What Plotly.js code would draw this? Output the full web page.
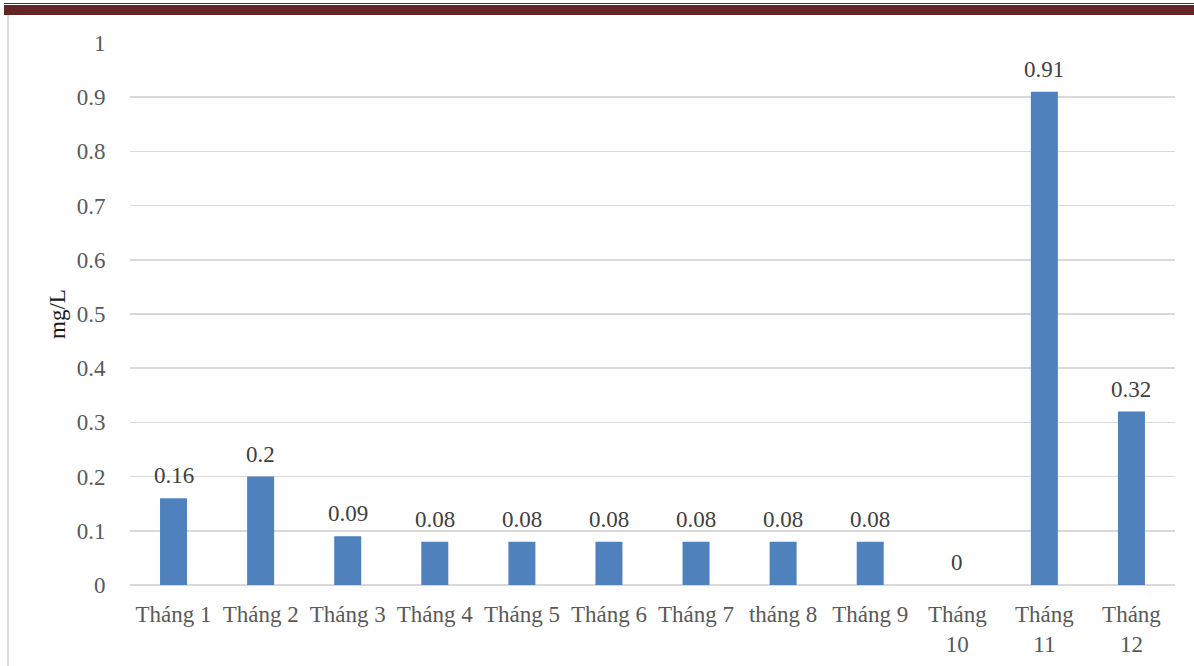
<!DOCTYPE html>
<html>
<head>
<meta charset="utf-8">
<script src="https://cdn.plot.ly/plotly-3.0.1.min.js"></script>
<style>
html,body{margin:0;padding:0;background:#fff;}
#wrap{position:relative;width:1194px;height:666px;overflow:hidden;}
#chart{position:absolute;left:0;top:0;width:1194px;height:666px;}
.deco{position:absolute;pointer-events:none;}
</style>
</head>
<body>
<div id="wrap">
<div id="chart"></div>
<div class="deco" style="left:4px;top:3px;width:1190px;height:1px;background:#632523;"></div>
<div class="deco" style="left:4px;top:5px;width:1190px;height:10px;background:#632523;"></div>
<div class="deco" style="left:7px;top:15px;width:2px;height:651px;background:#d9d9d9;"></div>
</div>
<script>
const categories = ["Tháng 1","Tháng 2","Tháng 3","Tháng 4","Tháng 5","Tháng 6","Tháng 7","tháng 8","Tháng 9","Tháng<br>10","Tháng<br>11","Tháng<br>12"];
const values = [0.16, 0.2, 0.09, 0.08, 0.08, 0.08, 0.08, 0.08, 0.08, 0, 0.91, 0.32];
const yTicks = [0, 0.1, 0.2, 0.3, 0.4, 0.5, 0.6, 0.7, 0.8, 0.9, 1];
const yTickLabels = ["0","0.1","0.2","0.3","0.4","0.5","0.6","0.7","0.8","0.9","1"];

const font = "Liberation Serif, Times New Roman, serif";

const labels = categories.map((c, i) => ({
  x: c, y: values[i], xref: "x", yref: "y",
  text: String(values[i]),
  showarrow: false, yanchor: "bottom", yshift: 8,
  font: {family: font, size: 23, color: "#404040"}
}));

Plotly.newPlot("chart", [{
  type: "bar",
  x: categories,
  y: values,
  marker: {color: "#4F81BD"},
  hoverinfo: "none"
}], {
  width: 1194,
  height: 666,
  margin: {l: 130, r: 19, t: 43, b: 81},
  paper_bgcolor: "rgba(0,0,0,0)",
  plot_bgcolor: "#fff",
  bargap: 0.69,
  showlegend: false,
  font: {family: font, size: 23, color: "#595959"},
  annotations: labels,
  xaxis: {
    type: "category",
    tickfont: {family: font, size: 23, color: "#595959"},
    showgrid: false,
    showline: false,
    ticks: "outside",
    ticklen: 8,
    tickcolor: "rgba(0,0,0,0)",
    zeroline: false,
    fixedrange: true
  },
  yaxis: {
    range: [0, 1],
    tickvals: yTicks,
    ticktext: yTickLabels,
    tickfont: {family: font, size: 23, color: "#595959"},
    showgrid: true,
    gridcolor: "#D9D9D9",
    gridwidth: 1.5,
    zeroline: true,
    zerolinecolor: "#D9D9D9",
    zerolinewidth: 1.5,
    showline: false,
    ticks: "outside",
    ticklen: 19,
    tickcolor: "rgba(0,0,0,0)",
    title: {text: "mg/L", font: {family: font, size: 23, color: "#1a1a1a"}, standoff: 4},
    fixedrange: true
  }
}, {displayModeBar: false, staticPlot: true});
</script>
</body>
</html>
